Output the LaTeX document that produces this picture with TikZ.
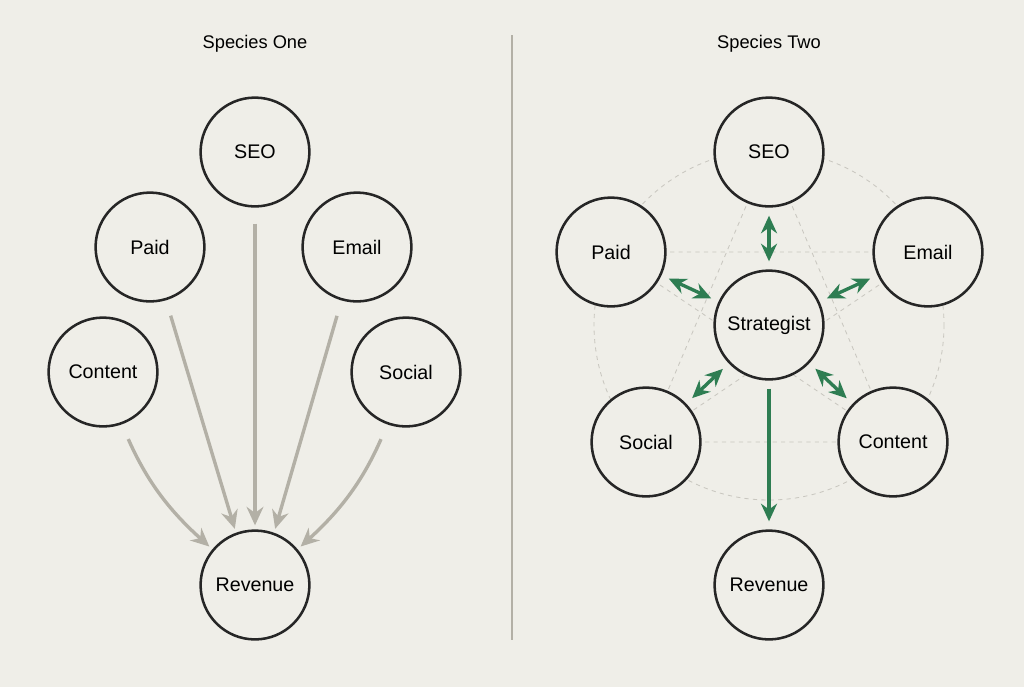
\documentclass[tikz,border=0pt]{standalone}
\usepackage{fontspec}
\setmainfont{Liberation Sans}
\usetikzlibrary{arrows.meta}
\definecolor{paper}{HTML}{EFEEE8}
\definecolor{flow}{HTML}{B3B0A6}
\definecolor{strat}{HTML}{2E7D52}
\definecolor{guide}{HTML}{C9C7C0}
\tikzset{
  channel/.style={circle,draw=black!85,line width=1.8pt,fill=paper,minimum size=2.72cm,inner sep=0pt,font=\fontsize{14}{16}\selectfont},
  feed/.style={draw=flow,line width=2.4pt,-{Stealth[length=4.6mm,width=4.2mm]},shorten <=4mm,shorten >=1mm},
  link/.style={draw=strat,line width=2.4pt,{Stealth[length=4.4mm,width=4mm]}-{Stealth[length=4.4mm,width=4mm]},shorten <=2mm,shorten >=2mm},
  web/.style={draw=guide,dashed,line width=0.6pt}
}
\begin{document}
\begin{tikzpicture}[x=0.025cm,y=-0.025cm]
    \fill[paper] (0,0) rectangle (1024,687);
    \useasboundingbox (0,0) rectangle (1024,687);

    % titles and divider
    \node[font=\fontsize{13}{15}\selectfont] (titleOne) at (255,44) {Species One};
    \node[font=\fontsize{13}{15}\selectfont] (titleTwo) at (769,44) {Species Two};
    \draw[flow,line width=0.8pt] (512,35) -- (512,640);

    % species one
    \node[channel] (seoA) at (255,152) {SEO};
    \node[channel] (paidA) at (150,247) {Paid};
    \node[channel] (emailA) at (357,247) {Email};
    \node[channel] (contentA) at (103,372) {Content};
    \node[channel] (socialA) at (406,372) {Social};
    \node[channel] (revenueA) at (255,585) {Revenue};

    \draw[feed] (seoA) -- (revenueA);
    \draw[feed] (paidA) -- (revenueA.110);
    \draw[feed] (emailA) -- (revenueA.70);
    \draw[feed] (contentA) to[bend right=12] (revenueA.140);
    \draw[feed] (socialA) to[bend left=12] (revenueA.40);

    % species two
    \draw[web] (769,325) circle (175);
    \draw[web] (769,152) -- (646,442) (769,152) -- (893,442)
      (611,252) -- (928,252) (611,252) -- (893,442)
      (928,252) -- (646,442) (646,442) -- (893,442);

    \node[channel] (seoB) at (769,152) {SEO};
    \node[channel] (paidB) at (611,252) {Paid};
    \node[channel] (emailB) at (928,252) {Email};
    \node[channel] (stratB) at (769,325) {Strategist};
    \node[channel] (socialB) at (646,442) {Social};
    \node[channel] (contentB) at (893,442) {Content};
    \node[channel] (revenueB) at (769,585) {Revenue};

    \foreach \n in {seoB,paidB,emailB,socialB,contentB} {
      \draw[link] (stratB) -- (\n);
    }
    \draw[draw=strat,line width=2.4pt,-{Stealth[length=4.4mm,width=4mm]},shorten <=2mm,shorten >=2mm] (stratB) -- (revenueB);
\end{tikzpicture}
\end{document}
